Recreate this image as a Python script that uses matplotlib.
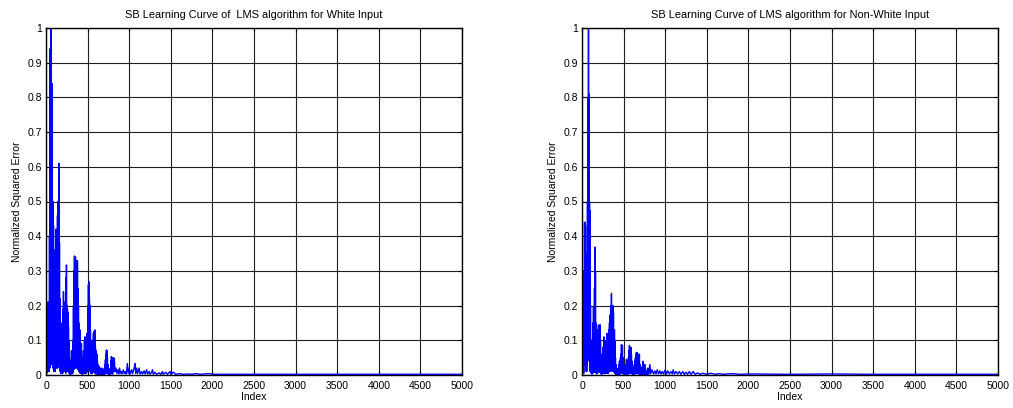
import matplotlib
matplotlib.use("Agg")
import matplotlib.pyplot as plt

# ---- data ----
titles = ["SB Learning Curve of  LMS algorithm for White Input",
          "SB Learning Curve of LMS algorithm for Non-White Input"]
x_label = "Index"
y_label = "Normalized Squared Error"
x_ticks = [0, 500, 1000, 1500, 2000, 2500, 3000, 3500, 4000, 4500, 5000]
y_ticks = [0, 0.1, 0.2, 0.3, 0.4, 0.5, 0.6, 0.7, 0.8, 0.9, 1]
y_ticklabels = ['0', '0.1', '0.2', '0.3', '0.4', '0.5', '0.6', '0.7', '0.8', '0.9', '1']

# Early part of each curve (index 0..~800): spike tops read every 6 samples
# (index 0, 6, 12, ...) and the dips between them (index 3, 9, 15, ...).
white_peaks = [
    0.02, 0.03, 0.12, 0.21, 0.17, 0.21, 0.11, 0.4, 0.94, 0.7,
    1.0, 0.8, 0.84, 0.5, 0.5, 0.43, 0.3, 0.36, 0.25, 0.22,
    0.42, 0.36, 0.42, 0.46, 0.5, 0.45, 0.61, 0.38, 0.22, 0.09,
    0.15, 0.12, 0.07, 0.13, 0.19, 0.24, 0.2, 0.21, 0.18, 0.12,
    0.28, 0.317, 0.2, 0.19, 0.18, 0.14, 0.1, 0.05, 0.03, 0.02,
    0.04, 0.07, 0.05, 0.05, 0.1, 0.2, 0.3, 0.343, 0.33, 0.34,
    0.28, 0.32, 0.33, 0.33, 0.25, 0.2, 0.15, 0.12, 0.13, 0.09,
    0.08, 0.09, 0.05, 0.03, 0.05, 0.07, 0.05, 0.1, 0.11, 0.09,
    0.06, 0.08, 0.12, 0.1, 0.2, 0.26, 0.269, 0.22, 0.2, 0.13,
    0.1, 0.07, 0.05, 0.08, 0.1, 0.12, 0.125, 0.1, 0.13, 0.08,
    0.07, 0.05, 0.06, 0.04, 0.03, 0.02, 0.025, 0.02, 0.015, 0.02,
    0.01, 0.015, 0.02, 0.015, 0.01, 0.008, 0.015, 0.02, 0.03, 0.044,
    0.06, 0.072, 0.07, 0.05, 0.03, 0.02, 0.015, 0.01, 0.015, 0.02,
    0.04, 0.053, 0.05, 0.03,
]
white_dips = [
    0.0, 0.005, 0.01, 0.02, 0.01, 0.02, 0.01, 0.02, 0.05, 0.03,
    0.06, 0.04, 0.03, 0.02, 0.03, 0.01, 0.02, 0.03, 0.01, 0.02,
    0.03, 0.02, 0.04, 0.02, 0.05, 0.03, 0.04, 0.02, 0.01, 0.005,
    0.005, 0.01, 0.005, 0.005, 0.01, 0.02, 0.01, 0.015, 0.01, 0.005,
    0.02, 0.02, 0.01, 0.015, 0.01, 0.01, 0.005, 0.003, 0.0, 0.002,
    0.004, 0.005, 0.004, 0.005, 0.01, 0.015, 0.02, 0.03, 0.02, 0.02,
    0.02, 0.03, 0.03, 0.02, 0.015, 0.01, 0.01, 0.008, 0.005, 0.005,
    0.005, 0.004, 0.002, 0.003, 0.005, 0.004, 0.005, 0.008, 0.006, 0.004,
    0.005, 0.008, 0.01, 0.01, 0.015, 0.02, 0.02, 0.015, 0.01, 0.005,
    0.005, 0.004, 0.005, 0.008, 0.01, 0.01, 0.008, 0.01, 0.005, 0.003,
    0.003, 0.005, 0.003, 0.002, 0.002, 0.002, 0.002, 0.002, 0.002, 0.002,
    0.001, 0.002, 0.002, 0.002, 0.001, 0.001, 0.002, 0.002, 0.004, 0.005,
    0.006, 0.008, 0.006, 0.004, 0.003, 0.002, 0.002, 0.002, 0.002, 0.003,
    0.004, 0.005, 0.004, 0.003,
]
# Later part: (index, value) pairs
white_tail = [
    (810, 0.05), (816, 0.01), (822, 0.048), (828, 0.01), (840, 0.02), (850, 0.005),
    (865, 0.015), (872, 0.003), (885, 0.02), (892, 0.005), (905, 0.01), (912, 0.003),
    (930, 0.015), (940, 0.004), (955, 0.01), (965, 0.003), (978, 0.033), (988, 0.005),
    (1000, 0.02), (1010, 0.003), (1030, 0.015), (1040, 0.004), (1060, 0.02), (1070, 0.033),
    (1078, 0.005), (1090, 0.02), (1100, 0.004), (1120, 0.02), (1130, 0.003), (1150, 0.01),
    (1160, 0.003), (1180, 0.012), (1190, 0.003), (1210, 0.015), (1220, 0.003), (1240, 0.01),
    (1250, 0.002), (1270, 0.008), (1280, 0.015), (1290, 0.002), (1310, 0.008), (1330, 0.002),
    (1360, 0.006), (1380, 0.002), (1400, 0.01), (1410, 0.002), (1440, 0.008), (1460, 0.002),
    (1490, 0.01), (1500, 0.002), (1530, 0.008), (1560, 0.002), (1600, 0.004), (1650, 0.002),
    (1700, 0.003), (1750, 0.002), (1800, 0.004), (1850, 0.002), (1900, 0.003), (1960, 0.004),
    (2000, 0.002), (2500, 0.002), (3000, 0.002), (3500, 0.002), (4000, 0.002), (4500, 0.002),
    (5000, 0.002),
]

nonwhite_peaks = [
    0.0, 0.03, 0.09, 0.06, 0.3, 0.44, 0.44, 0.43, 0.3, 0.2,
    0.35, 0.5, 0.8, 1.0, 0.81, 0.5, 0.475, 0.2, 0.08, 0.1,
    0.05, 0.08, 0.15, 0.197, 0.15, 0.25, 0.369, 0.3, 0.15, 0.08,
    0.1, 0.12, 0.13, 0.144, 0.12, 0.14, 0.145, 0.1, 0.05, 0.04,
    0.06, 0.05, 0.08, 0.07, 0.11, 0.08, 0.1, 0.06, 0.08, 0.1,
    0.12, 0.09, 0.06, 0.1, 0.13, 0.15, 0.173, 0.13, 0.2, 0.235,
    0.17, 0.15, 0.2, 0.18, 0.13, 0.13, 0.1, 0.05, 0.03, 0.02,
    0.02, 0.015, 0.01, 0.02, 0.03, 0.04, 0.03, 0.05, 0.06, 0.088,
    0.08, 0.085, 0.05, 0.03, 0.02, 0.01, 0.02, 0.03, 0.03, 0.045,
    0.04, 0.02, 0.03, 0.05, 0.07, 0.085, 0.08, 0.07, 0.08, 0.06,
    0.04, 0.03, 0.02, 0.01, 0.015, 0.03, 0.04, 0.05, 0.06, 0.065,
    0.05, 0.065, 0.06, 0.04, 0.05, 0.06, 0.03, 0.02, 0.01, 0.015,
    0.02, 0.025, 0.04, 0.035, 0.02, 0.015, 0.03, 0.02, 0.01, 0.008,
    0.01, 0.015, 0.02, 0.015,
]
nonwhite_dips = [
    0.0, 0.005, 0.01, 0.005, 0.03, 0.05, 0.03, 0.02, 0.01, 0.01,
    0.03, 0.05, 0.06, 0.08, 0.04, 0.02, 0.01, 0.01, 0.005, 0.003,
    0.003, 0.005, 0.01, 0.01, 0.008, 0.015, 0.02, 0.01, 0.005, 0.003,
    0.005, 0.008, 0.01, 0.012, 0.008, 0.01, 0.008, 0.005, 0.003, 0.003,
    0.003, 0.005, 0.005, 0.008, 0.01, 0.005, 0.008, 0.005, 0.005, 0.008,
    0.01, 0.005, 0.005, 0.008, 0.01, 0.012, 0.015, 0.01, 0.015, 0.02,
    0.012, 0.01, 0.015, 0.01, 0.008, 0.005, 0.005, 0.003, 0.002, 0.002,
    0.002, 0.002, 0.001, 0.002, 0.003, 0.003, 0.003, 0.004, 0.005, 0.008,
    0.005, 0.005, 0.003, 0.003, 0.002, 0.001, 0.002, 0.003, 0.003, 0.004,
    0.003, 0.002, 0.003, 0.004, 0.005, 0.008, 0.005, 0.005, 0.005, 0.004,
    0.003, 0.002, 0.002, 0.001, 0.002, 0.003, 0.003, 0.004, 0.005, 0.005,
    0.004, 0.005, 0.004, 0.003, 0.004, 0.003, 0.002, 0.002, 0.001, 0.002,
    0.002, 0.003, 0.003, 0.003, 0.002, 0.002, 0.003, 0.002, 0.001, 0.001,
    0.001, 0.002, 0.002, 0.002,
]
nonwhite_tail = [
    (816, 0.03), (826, 0.004), (840, 0.015), (860, 0.003), (875, 0.012), (890, 0.003),
    (905, 0.015), (920, 0.003), (935, 0.012), (950, 0.003), (965, 0.01), (980, 0.003),
    (1000, 0.015), (1015, 0.003), (1030, 0.012), (1050, 0.003), (1070, 0.01), (1085, 0.003),
    (1096, 0.015), (1110, 0.003), (1130, 0.01), (1150, 0.003), (1170, 0.01), (1190, 0.002),
    (1210, 0.01), (1230, 0.002), (1250, 0.008), (1270, 0.002), (1290, 0.01), (1310, 0.002),
    (1336, 0.01), (1360, 0.002), (1390, 0.006), (1420, 0.002), (1450, 0.005), (1500, 0.002),
    (1550, 0.005), (1600, 0.002), (1650, 0.004), (1700, 0.002), (1800, 0.004), (1900, 0.002),
    (2000, 0.003), (2500, 0.002), (3000, 0.003), (3500, 0.002), (4000, 0.002), (4500, 0.002),
    (5000, 0.002),
]

PEAK_STEP = 6  # samples between the read spike tops


def build(peaks, dips, tail):
    xs, ys = [], []
    for i, (p, d) in enumerate(zip(peaks, dips)):
        xs += [i * PEAK_STEP, i * PEAK_STEP + PEAK_STEP // 2]
        ys += [p, d]
    xs += [t[0] for t in tail]
    ys += [t[1] for t in tail]
    return xs, ys


series = [build(white_peaks, white_dips, white_tail),
          build(nonwhite_peaks, nonwhite_dips, nonwhite_tail)]

# ---- figure ----
plt.rcParams['font.family'] = ['Liberation Sans', 'DejaVu Sans']
W, H = 1013, 408
fig = plt.figure(figsize=(W / 100, H / 100), dpi=100)
lefts = [46, 582]
ax_w = 416
ax_top, ax_bot = 28, 375

for k, (xs, ys) in enumerate(series):
    ax = fig.add_axes([lefts[k] / W, 1 - ax_bot / H, ax_w / W, (ax_bot - ax_top) / H])
    ax.plot(xs, ys, color='#0000ff', linewidth=1.0)
    ax.set_xlim(0, 5000)
    ax.set_ylim(0, 1)
    ax.set_xticks(x_ticks)
    ax.set_yticks(y_ticks)
    ax.set_xticklabels([str(t) for t in x_ticks])
    ax.set_yticklabels(y_ticklabels)
    ax.grid(True, color='#202020', linewidth=0.8, linestyle='-')
    ax.set_axisbelow(True)
    ax.tick_params(direction='in', length=3, width=0.8, top=True, right=True,
                   labelsize=7.5, colors='black', pad=4)
    ax.tick_params(axis='y', pad=3)
    for sp in ax.spines.values():
        sp.set_linewidth(1.0)
        sp.set_color('black')
    ax.set_title(titles[k], fontsize=7.9, pad=7)
    ax.set_xlabel(x_label, fontsize=7.5, labelpad=1)
    ax.set_ylabel(y_label, fontsize=7.5, labelpad=4)

fig.savefig('out.png', dpi=100)
